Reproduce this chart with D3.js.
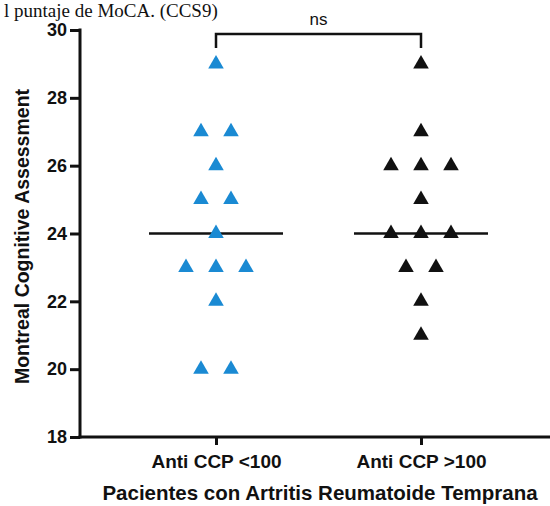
<!DOCTYPE html>
<html>
<head>
<meta charset="utf-8">
<script src="https://cdn.jsdelivr.net/npm/d3@7"></script>
<style>
  html, body { margin: 0; padding: 0; background: #fff; }
  svg { display: block; }
</style>
</head>
<body>
<script>
// ---- data ----
const categories = ["Anti CCP <100", "Anti CCP >100"];
const antiCcpLow  = [29, 27, 27, 26, 25, 25, 24, 23, 23, 23, 22, 20, 20];
const antiCcpHigh = [29, 27, 26, 26, 26, 25, 24, 24, 24, 23, 23, 22, 21];
const seriesColors = ["#1a8ad3", "#111111"];
const yTicks = [18, 20, 22, 24, 26, 28, 30];
const yDomain = [18, 30];
const significance = "ns";
const yLabel = "Montreal Cognitive Assessment";
const xLabel = "Pacientes con Artritis Reumatoide Temprana";
const caption = "l puntaje de MoCA. (CCS9)";

// ---- layout ----
const W = 550, H = 506;
const axisX = 80, axisTop = 30, axisBottom = 437;

const svg = d3.select("body").append("svg").attr("width", W).attr("height", H);

const y = d3.scaleLinear().domain(yDomain).range([axisBottom, axisTop]);
const x = d3.scalePoint().domain(categories).range([216, 421]);
const jitterStep = 30;
const medianHalf = 67;

// caption at top
svg.append("text")
  .attr("x", 4).attr("y", 17)
  .attr("font-family", "Liberation Serif, Times New Roman, serif")
  .attr("font-size", 19)
  .attr("fill", "#111")
  .text(caption);

// y axis
const yAxis = svg.append("g")
  .attr("transform", `translate(${axisX},0)`)
  .call(d3.axisLeft(y).tickValues(yTicks).tickSize(10).tickSizeOuter(0).tickPadding(3));
yAxis.select(".domain").attr("stroke", "#111").attr("stroke-width", 3)
  .attr("d", `M0,${axisTop - 1.5}V${axisBottom + 1.5}`);
yAxis.selectAll(".tick line").attr("stroke", "#111").attr("stroke-width", 3);
yAxis.selectAll(".tick text")
  .attr("font-family", "Liberation Sans, Arial, sans-serif")
  .attr("font-weight", "bold").attr("font-size", 18).attr("fill", "#111");

// x axis
const xAxis = svg.append("g")
  .attr("transform", `translate(0,${axisBottom})`)
  .call(d3.axisBottom(x).tickSize(8).tickSizeOuter(0).tickPadding(10));
xAxis.select(".domain").attr("stroke", "#111").attr("stroke-width", 3)
  .attr("d", `M${axisX - 1.5},0H${W}`);
xAxis.selectAll(".tick line").attr("stroke", "#111").attr("stroke-width", 3);
xAxis.selectAll(".tick text")
  .attr("font-family", "Liberation Sans, Arial, sans-serif")
  .attr("font-weight", "bold").attr("font-size", 19).attr("fill", "#111");

// axis titles
svg.append("text")
  .attr("transform", `translate(22,${(axisTop + axisBottom) / 2 + 3}) rotate(-90)`)
  .attr("text-anchor", "middle").attr("dominant-baseline", "central")
  .attr("font-family", "Liberation Sans, Arial, sans-serif")
  .attr("font-weight", "bold").attr("font-size", 19.5).attr("fill", "#111")
  .text(yLabel);

svg.append("text")
  .attr("x", 320).attr("y", 500)
  .attr("text-anchor", "middle")
  .attr("font-family", "Liberation Sans, Arial, sans-serif")
  .attr("font-weight", "bold").attr("font-size", 20.5).attr("fill", "#111")
  .text(xLabel);

// points
const groups = [antiCcpLow, antiCcpHigh];
const tri = d3.symbol().type(d3.symbolTriangle).size(105);

groups.forEach((vals, gi) => {
  const cx = x(categories[gi]);
  const med = d3.median(vals);
  // median line
  svg.append("line")
    .attr("x1", cx - medianHalf).attr("x2", cx + medianHalf)
    .attr("y1", y(med)).attr("y2", y(med))
    .attr("stroke", "#111").attr("stroke-width", 2.5);

  // horizontal spread for equal values
  const counts = d3.rollup(vals, v => v.length, d => d);
  const seen = new Map();
  const pts = vals.map(v => {
    const n = counts.get(v);
    const k = seen.get(v) || 0;
    seen.set(v, k + 1);
    return { v, off: (k - (n - 1) / 2) * jitterStep };
  });

  svg.append("g").selectAll("path").data(pts).join("path")
    .attr("d", tri)
    .attr("transform", d => `translate(${cx + d.off},${y(d.v)})`)
    .attr("fill", seriesColors[gi]);
});

// significance bracket
const bx1 = x(categories[0]), bx2 = x(categories[1]);
const by = 34, legDown = 14;
svg.append("path")
  .attr("d", `M${bx1},${by + legDown}V${by}H${bx2}V${by + legDown}`)
  .attr("fill", "none").attr("stroke", "#111").attr("stroke-width", 2.5);
svg.append("text")
  .attr("x", (bx1 + bx2) / 2).attr("y", 25)
  .attr("text-anchor", "middle")
  .attr("font-family", "Liberation Sans, Arial, sans-serif")
  .attr("font-size", 17).attr("fill", "#111")
  .text(significance);
</script>
</body>
</html>
